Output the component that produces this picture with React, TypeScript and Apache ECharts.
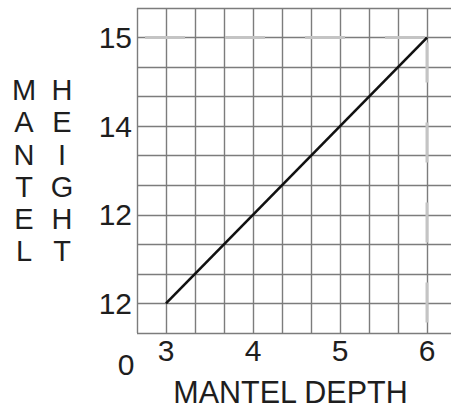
import React, { useEffect, useRef } from "react";
import * as echarts from "echarts";

// Data
const depthValues = [3, 6];
const heightValues = [12, 15];
const xTickValues = [3, 4, 5, 6];
const xTickLabels = ["3", "4", "5", "6"];
const yTickValues = [12, 13, 14, 15];
const yTickLabels = ["12", "12", "14", "15"];
const refDepth = 6;
const refHeight = 15;
const xMin = 8 / 3;
const xMax = 19 / 3;
const yMin = 35 / 3;
const yMax = 46 / 3;
const cornerLabel = "0";
const xTitle = "MANTEL DEPTH";
const yTitleLeft = ["M", "A", "N", "T", "E", "L"];
const yTitleRight = ["H", "E", "I", "G", "H", "T"];

const FONT = "'Liberation Sans', Arial, sans-serif";
const GRID_COLOR = "#7c7c7c";
const TEXT_COLOR = "#1e1e1e";

export default function App() {
  const ref = useRef<HTMLDivElement>(null);
  useEffect(() => {
    if (!ref.current) return;
    const chart = echarts.init(ref.current, undefined, { renderer: "svg" });
    const lookup = (vals: number[], labels: string[]) => (v: number) => {
      const i = vals.findIndex((x) => Math.abs(x - v) < 1e-6);
      return i >= 0 ? labels[i] : "";
    };
    chart.setOption({
      animation: false,
      backgroundColor: "#ffffff",
      grid: {
        left: 137,
        top: 8,
        width: 319,
        height: 325,
        containLabel: false,
        outerBoundsMode: "none",
      },
      xAxis: [
        {
          type: "value",
          min: xMin,
          max: xMax,
          axisLine: { show: false },
          axisTick: { show: false },
          splitLine: { show: false },
          axisLabel: {
            customValues: xTickValues,
            formatter: lookup(xTickValues, xTickLabels),
            fontSize: 30,
            fontFamily: FONT,
            color: TEXT_COLOR,
            margin: 2,
          },
          name: xTitle,
          nameLocation: "middle",
          nameGap: 46,
          nameTextStyle: {
            fontSize: 30.5,
            lineHeight: 26,
            fontFamily: FONT,
            color: TEXT_COLOR,
            padding: [0, 12, 0, 0],
          },
        },
        {
          type: "value",
          min: 0,
          max: 11,
          interval: 1,
          position: "top",
          axisLine: { show: false },
          axisTick: { show: false },
          axisLabel: { show: false },
          splitLine: { show: true, lineStyle: { color: GRID_COLOR, width: 1.4 } },
        },
      ],
      yAxis: [
        {
          type: "value",
          min: yMin,
          max: yMax,
          axisLine: { show: false },
          axisTick: { show: false },
          splitLine: { show: false },
          axisLabel: {
            customValues: yTickValues,
            formatter: lookup(yTickValues, yTickLabels),
            fontSize: 30,
            fontFamily: FONT,
            color: TEXT_COLOR,
            margin: 5,
          },
        },
        {
          type: "value",
          min: 0,
          max: 11,
          interval: 1,
          position: "right",
          axisLine: { show: false },
          axisTick: { show: false },
          axisLabel: { show: false },
          splitLine: { show: true, lineStyle: { color: GRID_COLOR, width: 1.4 } },
        },
      ],
      graphic: [
        {
          type: "text",
          x: 126,
          y: 364,
          style: {
            text: cornerLabel,
            fontSize: 30,
            fontFamily: FONT,
            fill: TEXT_COLOR,
            align: "center",
            verticalAlign: "middle",
          },
        },
        {
          type: "text",
          x: 24,
          y: 74,
          style: {
            text: yTitleLeft.join("\n"),
            fontSize: 29,
            lineHeight: 32.2,
            fontFamily: FONT,
            fill: TEXT_COLOR,
            align: "center",
            verticalAlign: "top",
          },
        },
        {
          type: "text",
          x: 62,
          y: 74,
          style: {
            text: yTitleRight.join("\n"),
            fontSize: 29,
            lineHeight: 32.2,
            fontFamily: FONT,
            fill: TEXT_COLOR,
            align: "center",
            verticalAlign: "top",
          },
        },
      ],
      series: [
        {
          type: "line",
          xAxisIndex: 0,
          yAxisIndex: 0,
          data: [
            [xMin, refHeight],
            [refDepth, refHeight],
          ],
          symbol: "none",
          silent: true,
          lineStyle: { color: "#c4c4c4", width: 3, type: [40, 40], dashOffset: 72 },
        },
        {
          type: "line",
          xAxisIndex: 0,
          yAxisIndex: 0,
          data: [
            [refDepth, refHeight],
            [refDepth, yMin],
          ],
          symbol: "none",
          silent: true,
          lineStyle: { color: "#c4c4c4", width: 3, type: [40, 40], dashOffset: 75 },
        },
        {
          type: "line",
          xAxisIndex: 0,
          yAxisIndex: 0,
          data: depthValues.map((d, i) => [d, heightValues[i]]),
          symbol: "none",
          lineStyle: { color: "#111", width: 2.6 },
        },
      ],
    });
    return () => chart.dispose();
  }, []);
  return (
    <div
      style={{
        position: "absolute",
        left: 0,
        top: 0,
        width: 451,
        height: 408,
        overflow: "hidden",
        background: "#fff",
      }}
    >
      <div ref={ref} style={{ width: 460, height: 408 }} />
    </div>
  );
}
